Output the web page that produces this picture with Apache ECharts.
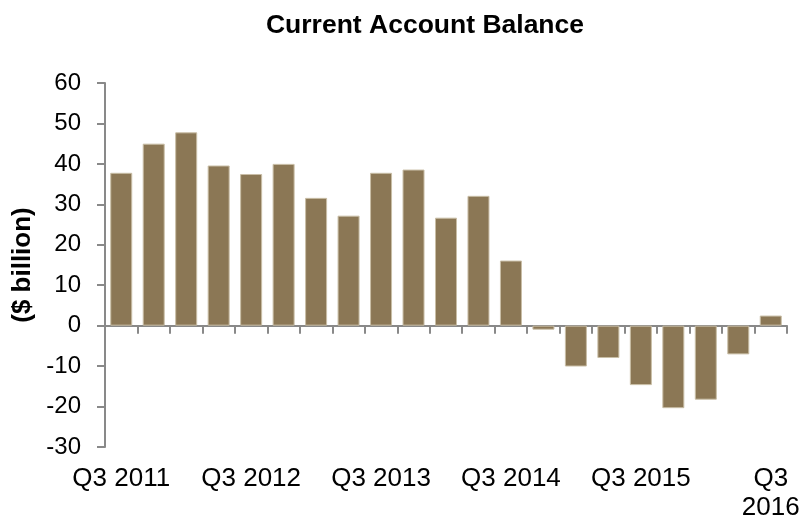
<!DOCTYPE html>
<html>
<head>
<meta charset="utf-8">
<script src="https://cdn.jsdelivr.net/npm/echarts@6/dist/echarts.min.js"></script>
<style>
  html, body { margin: 0; padding: 0; background: #fff; }
  #chart { width: 806px; height: 520px; }
</style>
</head>
<body>
<div id="chart"></div>
<script>
// quarters Q3 2011 .. Q3 2016
var quarters = [
  'Q3 2011', 'Q4 2011', 'Q1 2012', 'Q2 2012',
  'Q3 2012', 'Q4 2012', 'Q1 2013', 'Q2 2013',
  'Q3 2013', 'Q4 2013', 'Q1 2014', 'Q2 2014',
  'Q3 2014', 'Q4 2014', 'Q1 2015', 'Q2 2015',
  'Q3 2015', 'Q4 2015', 'Q1 2016', 'Q2 2016',
  'Q3 2016'
];
// $ billion
var balance = [
  37.8, 45.0, 47.8, 39.6,
  37.5, 40.0, 31.6, 27.2,
  37.8, 38.6, 26.7, 32.1,
  16.1, -1.0, -10.1, -8.0,
  -14.7, -20.4, -18.3, -7.1,
  2.5
];
var yTicks = [-30, -20, -10, 0, 10, 20, 30, 40, 50, 60];

var font = 'Liberation Sans, Arial, sans-serif';
var axisGray = '#898989';

var chart = echarts.init(document.getElementById('chart'));
var option = {
  backgroundColor: '#fff',
  animation: false,
  title: {
    text: 'Current Account Balance',
    left: 420,
    textAlign: 'center',
    top: 7,
    textStyle: { fontFamily: font, fontSize: 26.5, fontWeight: 'bold', color: '#000' }
  },
  grid: {
    left: 105,
    right: 19,
    top: 83,
    bottom: 73,
    outerBoundsMode: 'none'
  },
  xAxis: [
    {
      // labels along the bottom
      type: 'category',
      data: quarters,
      position: 'bottom',
      axisLine: { show: false, onZero: false },
      axisTick: { show: false },
      axisLabel: {
        interval: 3,
        margin: 17,
        fontFamily: font,
        fontSize: 26,
        color: '#000',
        lineHeight: 29,
        formatter: function (v, i) {
          return i === quarters.length - 1 ? v.replace(' ', '\n') : v;
        }
      }
    },
    {
      // axis line with ticks at zero
      type: 'category',
      data: quarters,
      position: 'top',
      axisLine: { show: true, onZero: true, lineStyle: { color: axisGray, width: 2 } },
      axisTick: { show: true, interval: 0, inside: true, length: 8, lineStyle: { color: axisGray, width: 2 } },
      axisLabel: { show: false },
      splitLine: { show: false }
    }
  ],
  yAxis: {
    type: 'value',
    min: yTicks[0],
    max: yTicks[yTicks.length - 1],
    interval: 10,
    name: '($ billion)',
    nameLocation: 'middle',
    nameGap: 68,
    nameTextStyle: { fontFamily: font, fontSize: 26, fontWeight: 'bold', color: '#000' },
    axisLine: { show: true, lineStyle: { color: axisGray, width: 2 } },
    axisTick: { show: true, length: 8, lineStyle: { color: axisGray, width: 2 } },
    axisLabel: { margin: 24, fontFamily: font, fontSize: 24, color: '#000' },
    splitLine: { show: false }
  },
  series: [{
    type: 'bar',
    xAxisIndex: 0,
    data: balance,
    barWidth: 22,
    itemStyle: { color: '#8B7755', borderColor: '#C9BEA6', borderWidth: 1 }
  }]
};
chart.setOption(option);
</script>
</body>
</html>
